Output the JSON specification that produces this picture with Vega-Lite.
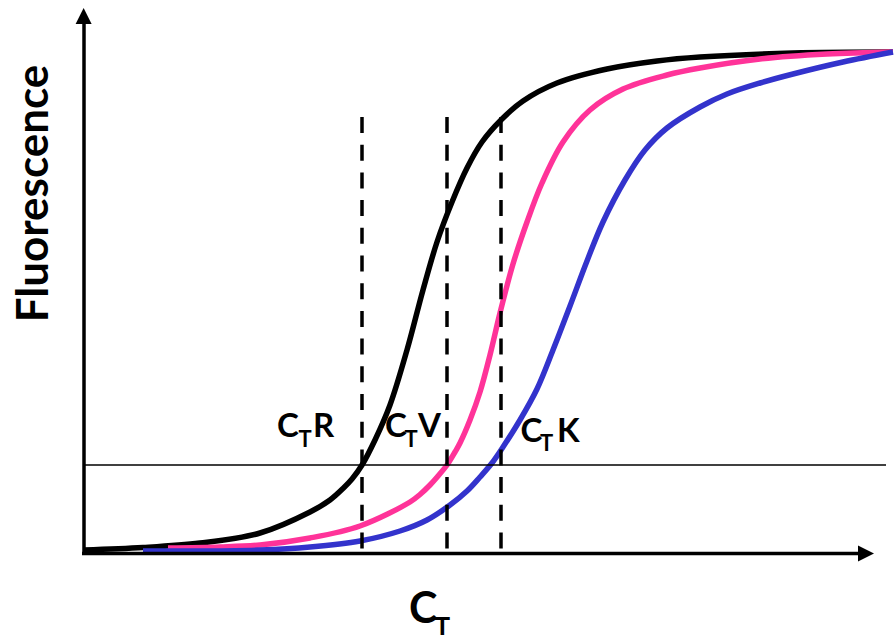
{
  "$schema": "https://vega.github.io/schema/vega-lite/v6.json",
  "width": 894,
  "height": 635,
  "autosize": {"type": "none"},
  "padding": 0,
  "background": "white",
  "config": {"view": {"stroke": null}, "font": "Lato"},
  "datasets": {
    "curves": [
      {"series": "R", "x": 0, "y": 0.004},
      {"series": "R", "x": 2.95, "y": 0.009},
      {"series": "R", "x": 5.8, "y": 0.018},
      {"series": "R", "x": 8.8, "y": 0.038},
      {"series": "R", "x": 11.3, "y": 0.080},
      {"series": "R", "x": 12.3, "y": 0.104},
      {"series": "R", "x": 12.95, "y": 0.127},
      {"series": "R", "x": 13.4, "y": 0.146},
      {"series": "R", "x": 13.9, "y": 0.174},
      {"series": "R", "x": 14.55, "y": 0.224},
      {"series": "R", "x": 15.3, "y": 0.294},
      {"series": "R", "x": 16.15, "y": 0.404},
      {"series": "R", "x": 16.95, "y": 0.524},
      {"series": "R", "x": 17.65, "y": 0.620},
      {"series": "R", "x": 18.4, "y": 0.700},
      {"series": "R", "x": 19.15, "y": 0.768},
      {"series": "R", "x": 19.9, "y": 0.820},
      {"series": "R", "x": 20.85, "y": 0.864},
      {"series": "R", "x": 21.95, "y": 0.902},
      {"series": "R", "x": 23.65, "y": 0.938},
      {"series": "R", "x": 26.15, "y": 0.966},
      {"series": "R", "x": 28.65, "y": 0.982},
      {"series": "R", "x": 30.8, "y": 0.990},
      {"series": "R", "x": 35.45, "y": 0.998},
      {"series": "R", "x": 40.45, "y": 1.0},
      {"series": "V", "x": 4.2, "y": 0.008},
      {"series": "V", "x": 6.8, "y": 0.010},
      {"series": "V", "x": 8.8, "y": 0.014},
      {"series": "V", "x": 11.3, "y": 0.028},
      {"series": "V", "x": 13.8, "y": 0.052},
      {"series": "V", "x": 16.3, "y": 0.100},
      {"series": "V", "x": 16.8, "y": 0.115},
      {"series": "V", "x": 17.3, "y": 0.134},
      {"series": "V", "x": 17.7, "y": 0.152},
      {"series": "V", "x": 18.15, "y": 0.174},
      {"series": "V", "x": 18.55, "y": 0.200},
      {"series": "V", "x": 18.8, "y": 0.218},
      {"series": "V", "x": 19.3, "y": 0.264},
      {"series": "V", "x": 19.8, "y": 0.320},
      {"series": "V", "x": 20.3, "y": 0.394},
      {"series": "V", "x": 20.8, "y": 0.478},
      {"series": "V", "x": 21.45, "y": 0.576},
      {"series": "V", "x": 22.15, "y": 0.660},
      {"series": "V", "x": 22.9, "y": 0.738},
      {"series": "V", "x": 23.95, "y": 0.820},
      {"series": "V", "x": 25.3, "y": 0.884},
      {"series": "V", "x": 26.95, "y": 0.926},
      {"series": "V", "x": 29.15, "y": 0.954},
      {"series": "V", "x": 30.8, "y": 0.968},
      {"series": "V", "x": 33.8, "y": 0.986},
      {"series": "V", "x": 37.15, "y": 0.996},
      {"series": "V", "x": 40.45, "y": 1.0},
      {"series": "K", "x": 2.95, "y": 0.002},
      {"series": "K", "x": 5.8, "y": 0.002},
      {"series": "K", "x": 8.8, "y": 0.004},
      {"series": "K", "x": 11.3, "y": 0.010},
      {"series": "K", "x": 13.8, "y": 0.022},
      {"series": "K", "x": 15.8, "y": 0.042},
      {"series": "K", "x": 17.15, "y": 0.064},
      {"series": "K", "x": 18.3, "y": 0.094},
      {"series": "K", "x": 19.15, "y": 0.122},
      {"series": "K", "x": 19.8, "y": 0.150},
      {"series": "K", "x": 20.4, "y": 0.178},
      {"series": "K", "x": 20.95, "y": 0.210},
      {"series": "K", "x": 21.8, "y": 0.264},
      {"series": "K", "x": 22.65, "y": 0.326},
      {"series": "K", "x": 23.45, "y": 0.404},
      {"series": "K", "x": 24.3, "y": 0.492},
      {"series": "K", "x": 25.15, "y": 0.582},
      {"series": "K", "x": 25.95, "y": 0.660},
      {"series": "K", "x": 27.05, "y": 0.744},
      {"series": "K", "x": 28.05, "y": 0.804},
      {"series": "K", "x": 29.15, "y": 0.848},
      {"series": "K", "x": 30.8, "y": 0.890},
      {"series": "K", "x": 32.15, "y": 0.916},
      {"series": "K", "x": 33.8, "y": 0.938},
      {"series": "K", "x": 35.45, "y": 0.956},
      {"series": "K", "x": 37.95, "y": 0.980},
      {"series": "K", "x": 40.45, "y": 1.0}
    ],
    "threshold": [{"x": 0, "x2": 40.1, "y": 0.174}],
    "ct": [
      {"x": 13.9, "y": 0.87, "y2": 0},
      {"x": 18.15, "y": 0.87, "y2": 0},
      {"x": 20.85, "y": 0.87, "y2": 0}
    ],
    "axes": [
      {"x": 0, "x2": 0, "y": -0.003, "y2": 1.056},
      {"x": -0.1, "x2": 38.9, "y": -0.003, "y2": -0.003}
    ],
    "arrows": [
      {"dir": "up", "x": -0.02, "y": 1.072},
      {"dir": "right", "x": 39.1, "y": -0.003}
    ],
    "mainText": [
      {"text": "C", "x": 9.65, "y": 0.23},
      {"text": "R", "x": 11.45, "y": 0.23},
      {"text": "C", "x": 15.05, "y": 0.23},
      {"text": "V", "x": 16.7, "y": 0.23},
      {"text": "C", "x": 21.83, "y": 0.22},
      {"text": "K", "x": 23.65, "y": 0.22}
    ],
    "subText": [
      {"text": "T", "x": 10.725, "y": 0.21},
      {"text": "T", "x": 16.025, "y": 0.21},
      {"text": "T", "x": 22.8, "y": 0.202}
    ],
    "xTitle": [{"text": "C", "x": 16.25, "y": -0.142}],
    "xTitleSub": [{"text": "T", "x": 17.525, "y": -0.168}],
    "yTitle": [{"text": "Fluorescence", "x": -1.825, "y": 0.717}]
  },
  "layer": [
    {
      "data": {"name": "curves"},
      "mark": {"type": "line", "interpolate": "catmull-rom", "strokeWidth": 5.5, "strokeCap": "butt"},
      "encoding": {
        "x": {"field": "x", "type": "quantitative", "scale": {"domain": [-4.2, 40.5], "nice": false, "zero": false}, "axis": null},
        "y": {"field": "y", "type": "quantitative", "scale": {"domain": [-0.166, 1.104], "nice": false, "zero": false}, "axis": null},
        "color": {"field": "series", "type": "nominal", "scale": {"domain": ["R", "V", "K"], "range": ["#000000", "#FF3399", "#3333CC"]}, "legend": null},
        "order": {"field": "x", "type": "quantitative"}
      }
    },
    {
      "data": {"name": "threshold"},
      "mark": {"type": "rule", "strokeWidth": 1.6, "color": "#000000"},
      "encoding": {
        "x": {"field": "x", "type": "quantitative"},
        "x2": {"field": "x2"},
        "y": {"field": "y", "type": "quantitative"}
      }
    },
    {
      "data": {"name": "ct"},
      "mark": {"type": "rule", "strokeWidth": 3.5, "strokeDash": [16, 11.7], "color": "#000000"},
      "encoding": {
        "x": {"field": "x", "type": "quantitative"},
        "y": {"field": "y", "type": "quantitative"},
        "y2": {"field": "y2"}
      }
    },
    {
      "data": {"name": "axes"},
      "mark": {"type": "rule", "strokeWidth": 3.5, "color": "#000000"},
      "encoding": {
        "x": {"field": "x", "type": "quantitative"},
        "x2": {"field": "x2"},
        "y": {"field": "y", "type": "quantitative"},
        "y2": {"field": "y2"}
      }
    },
    {
      "data": {"name": "arrows"},
      "mark": {"type": "point", "filled": true, "opacity": 1, "size": 256, "color": "#000000", "strokeWidth": 0},
      "encoding": {
        "x": {"field": "x", "type": "quantitative"},
        "y": {"field": "y", "type": "quantitative"},
        "shape": {"field": "dir", "type": "nominal", "scale": {"domain": ["up", "right"], "range": ["M -1 1 L 1 1 L 0 -1 Z", "M -1 -1 L 1 0 L -1 1 Z"]}, "legend": null}
      }
    },
    {
      "data": {"name": "mainText"},
      "mark": {"type": "text", "fontSize": 33, "fontWeight": "bold", "align": "left", "baseline": "alphabetic", "color": "#000000"},
      "encoding": {
        "x": {"field": "x", "type": "quantitative"},
        "y": {"field": "y", "type": "quantitative"},
        "text": {"field": "text"}
      }
    },
    {
      "data": {"name": "subText"},
      "mark": {"type": "text", "fontSize": 22, "fontWeight": "bold", "align": "left", "baseline": "alphabetic", "color": "#000000"},
      "encoding": {
        "x": {"field": "x", "type": "quantitative"},
        "y": {"field": "y", "type": "quantitative"},
        "text": {"field": "text"}
      }
    },
    {
      "data": {"name": "xTitle"},
      "mark": {"type": "text", "fontSize": 43, "fontWeight": "bold", "align": "left", "baseline": "alphabetic", "color": "#000000"},
      "encoding": {
        "x": {"field": "x", "type": "quantitative"},
        "y": {"field": "y", "type": "quantitative"},
        "text": {"field": "text"}
      }
    },
    {
      "data": {"name": "xTitleSub"},
      "mark": {"type": "text", "fontSize": 26, "fontWeight": "bold", "align": "left", "baseline": "alphabetic", "color": "#000000"},
      "encoding": {
        "x": {"field": "x", "type": "quantitative"},
        "y": {"field": "y", "type": "quantitative"},
        "text": {"field": "text"}
      }
    },
    {
      "data": {"name": "yTitle"},
      "mark": {"type": "text", "fontSize": 44, "fontWeight": "bold", "align": "center", "baseline": "alphabetic", "angle": 270, "color": "#000000"},
      "encoding": {
        "x": {"field": "x", "type": "quantitative"},
        "y": {"field": "y", "type": "quantitative"},
        "text": {"field": "text"}
      }
    }
  ]
}
